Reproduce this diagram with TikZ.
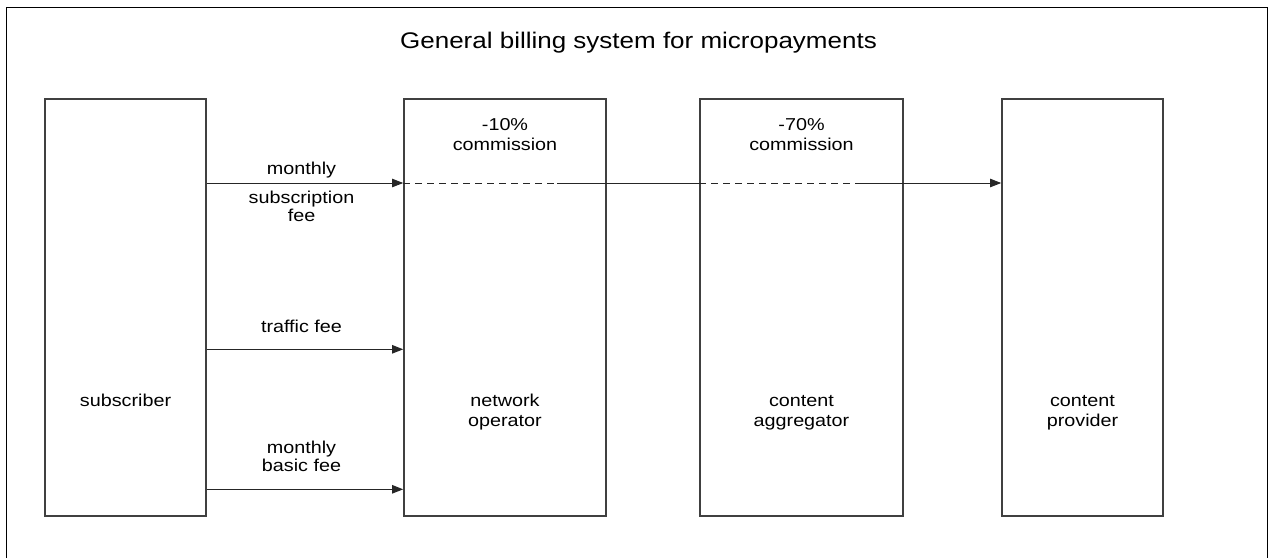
\documentclass[tikz,border=0pt]{standalone}
\usepackage{fontspec}
\setmainfont{Liberation Sans}[FakeStretch=1.15]
\usetikzlibrary{arrows.meta,positioning}

\begin{document}
\begin{tikzpicture}[x=0.5pt,y=-0.5pt,
    party/.style={draw=black!75,line width=0.8pt,inner sep=0pt,
      minimum height=208.5pt},
    partytext/.style={align=center,inner sep=0pt,font=\fontsize{8.6}{10}\selectfont},
    fee/.style={align=center,inner sep=0pt,font=\fontsize{8.6}{9.15}\selectfont},
    flow/.style={draw=black!85,line width=0.5pt,-{Triangle[length=5.5pt,width=4.2pt]}},
    pass/.style={draw=black!85,line width=0.5pt,dash pattern=on 3.5pt off 2.5pt}]
  \useasboundingbox (0,0) rectangle (1269,558);
  % The frame round everything; its lower edge lies below the page.
  \draw[line width=0.5pt] (6,558) -- (6,7) -- (1267.5,7) -- (1267.5,558);
  \node[anchor=base,inner sep=0pt,font=\fontsize{11.3}{13}\selectfont] (title)
    at (638.5,48.3) {General billing system for micropayments};

  % The four parties, from the one who pays to the one who gets paid.
  \node[party,minimum width=80.5pt] (subscriber) at (125.5,307.5) {};
  \node[party,minimum width=101pt]  (operator)   at (505,307.5)   {};
  \node[party,minimum width=101.5pt] (aggregator) at (801.5,307.5) {};
  \node[party,minimum width=80.5pt] (provider)   at (1082.5,307.5) {};
  \node[partytext,anchor=base] (subscriberlbl) at (125.5,406.7) {subscriber};
  \node[partytext] (operatorlbl)   at (505,412.3)    {network\\operator};
  \node[partytext] (aggregatorlbl) at (801.5,412.5)  {content\\aggregator};
  \node[partytext] (providerlbl)   at (1082.5,412.5) {content\\provider};
  \node[partytext] (cut1lbl) at (505,134.9)   {-10\%\\commission};
  \node[partytext] (cut2lbl) at (801.5,134.9) {-70\%\\commission};

  % Rows of the three payments.
  \coordinate (rowA) at (0,183);
  \coordinate (rowB) at (0,349.3);
  \coordinate (rowC) at (0,489.3);
  % Where the commission is taken off, the line turns dashed.
  \coordinate (cut1) at (557,183);
  \coordinate (cut2) at (862,183);

  \draw[flow] (subscriber.east |- rowA) -- (operator.west |- rowA);
  \draw[pass] (operator.west |- rowA) -- (cut1);
  \draw[draw=black!85,line width=0.5pt] (cut1) -- (aggregator.west |- rowA);
  \draw[pass] (aggregator.west |- rowA) -- (cut2);
  \draw[flow] (cut2) -- (provider.west |- rowA);
  \draw[flow] (subscriber.east |- rowB) -- (operator.west |- rowB);
  \draw[flow] (subscriber.east |- rowC) -- (operator.west |- rowC);

  \node[fee,anchor=base] (monthlylbl) at (301.5,174) {monthly};
  \node[fee] (subscriptionlbl) at (301.5,206.3) {subscription\\fee};
  \node[fee,anchor=base] (trafficlbl) at (301.5,332.5) {traffic fee};
  \node[fee] (basiclbl) at (301.5,456.3) {monthly\\basic fee};
\end{tikzpicture}
\end{document}
